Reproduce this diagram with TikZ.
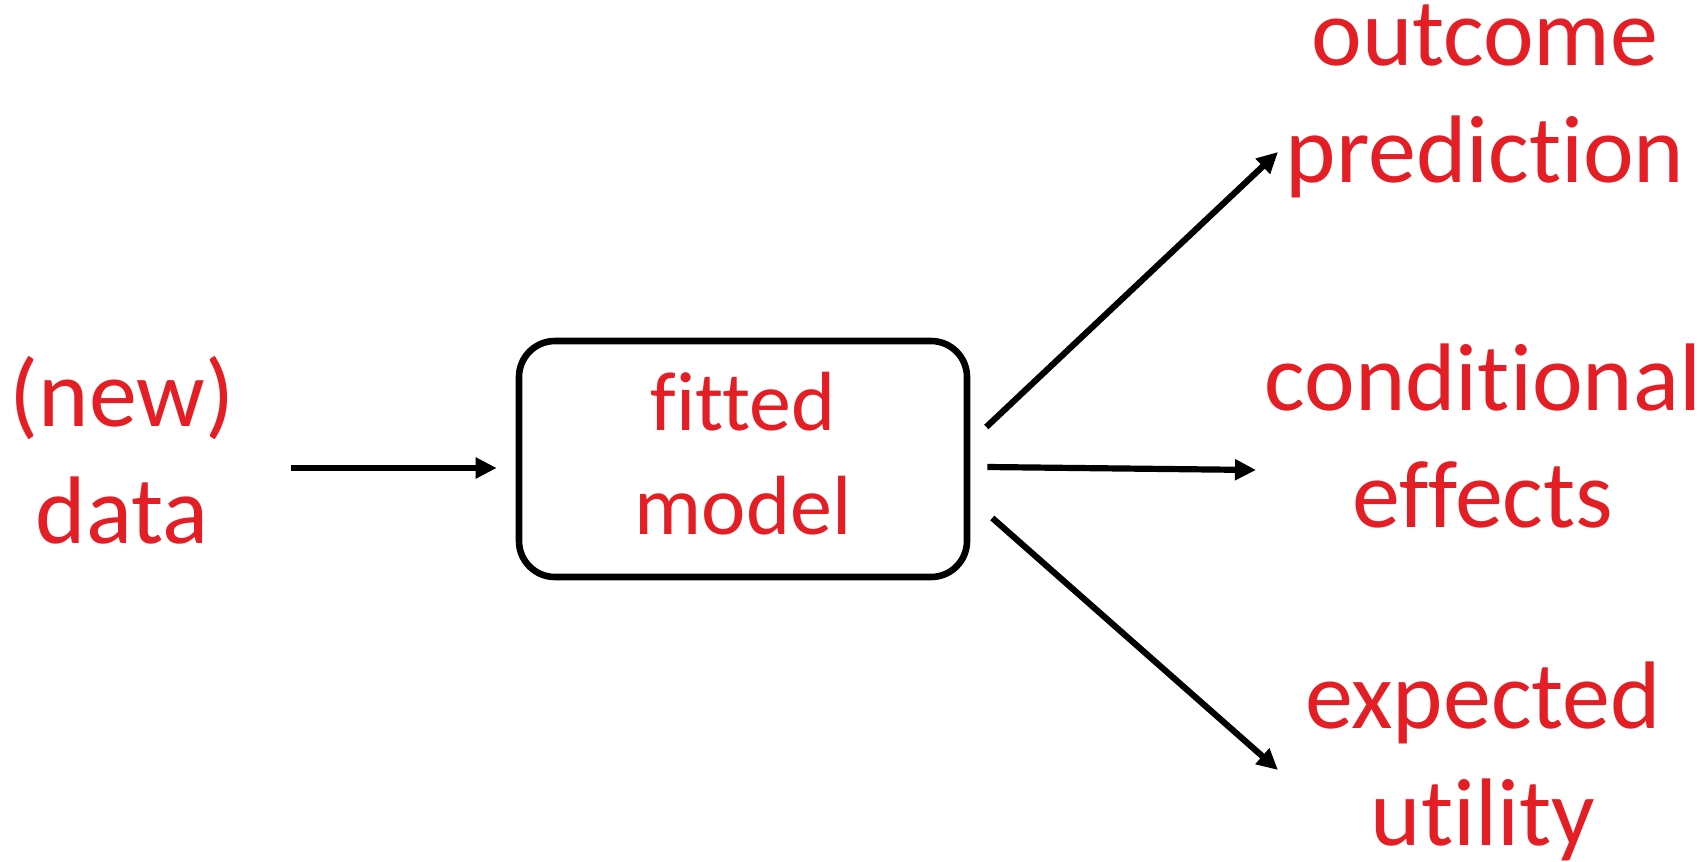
\documentclass[tikz,border=0pt]{standalone}
\usepackage{fontspec}
\setmainfont{Carlito}[Ligatures=NoCommon]
\usetikzlibrary{arrows.meta,positioning}
\definecolor{WordRed}{HTML}{E41E25}

\begin{document}
\begin{tikzpicture}[x=0.5pt,y=-0.5pt,
    word/.style={text=WordRed, inner sep=0pt, align=center,
      font=\fontsize{48}{58.5}\selectfont},
    modelbox/.style={draw, line width=3.3pt, rounded corners=18pt,
      minimum width=224pt, minimum height=118pt, inner sep=0pt,
      text=WordRed, align=center, font=\fontsize{42}{52}\selectfont},
    link/.style={line width=3.1pt, -{Triangle[length=10.5pt,width=10pt]}}
  ]
  \fill[white] (0,0) rectangle (1708,862);
  \useasboundingbox (0,0) rectangle (1708,862);

  % the model in the middle
  \node[modelbox] (fit) at (743,459) {fitted\\model\rule[-6pt]{0pt}{6pt}};

  % input on the left, outputs on the right (base = last line)
  \node[word, anchor=base] (data) at (122,543) {(new)\\data};
  \node[word, anchor=base] (outcome) at (1485,182) {outcome\\prediction};
  \node[word, anchor=base] (cond) at (1483,527) {conditional\\effects};
  \node[word, anchor=base] (util) at (1483,845) {expected\\utility};

  \draw[link] ([shift={(169,-75)}]data.base) -- ([shift={(-19,9)}]fit.west);
  \draw[link] ([shift={(16,-32)}]fit.east) -- ([shift={(-207,-30)}]outcome.base);
  \draw[link] ([shift={(17,8)}]fit.east) -- ([shift={(-227,-57)}]cond.base);
  \draw[link] ([shift={(22,59)}]fit.east) -- ([shift={(-205,-75)}]util.base);
\end{tikzpicture}
\end{document}
